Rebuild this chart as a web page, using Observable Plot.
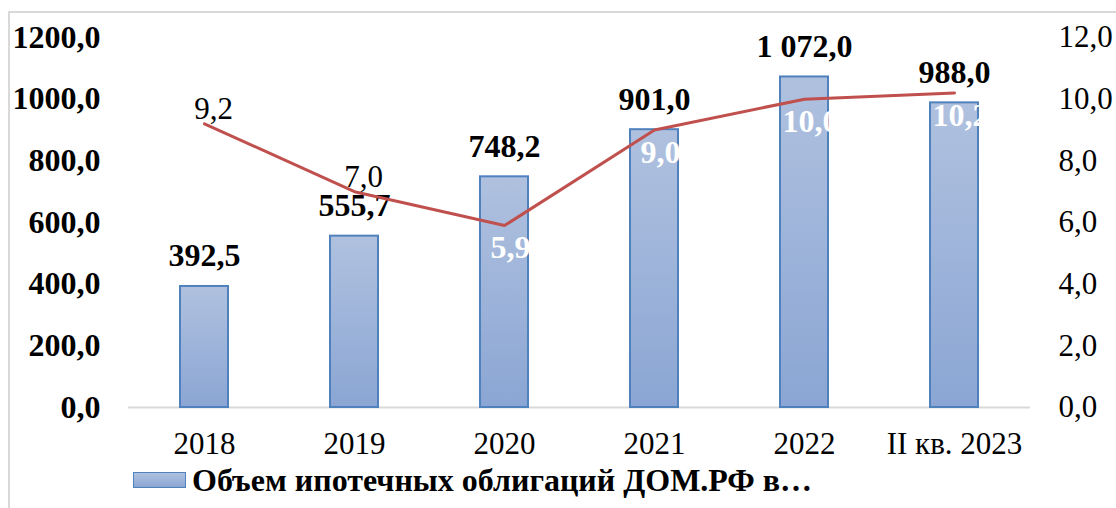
<!DOCTYPE html>
<html>
<head>
<meta charset="utf-8">
<script src="https://cdn.jsdelivr.net/npm/d3@7"></script>
<script src="https://cdn.jsdelivr.net/npm/@observablehq/plot@0.6"></script>
<style>
  body { margin: 0; background: #fff; }
  #wrap { position: relative; width: 1116px; height: 508px; overflow: hidden; font-family: "Liberation Serif", "Times New Roman", serif; }
  #border { position: absolute; left: 8px; top: 11px; width: 1200px; height: 600px; border-top: 2px solid #D9D9D9; border-left: 2px solid #D9D9D9; }
  #chart { position: absolute; left: 0; top: 0; }
  #legend { position: absolute; left: 133px; top: 465px; display: flex; align-items: center; font-weight: bold; font-size: 32px; line-height: 30px; color: #000; white-space: nowrap; }
  #legend .sw { width: 51px; height: 14px; border: 1px solid #4F81BD; background: linear-gradient(#B0C1DF, #8BA6D4); margin-right: 6px; }
</style>
</head>
<body>
<div id="wrap">
  <div id="border"></div>
  <div id="chart"></div>
  <div id="legend"><span class="sw"></span><span id="legendText"></span></div>
</div>
<script>
const years = ["2018", "2019", "2020", "2021", "2022", "II кв. 2023"];
const volumes = [392.5, 555.7, 748.2, 901.0, 1072.0, 988.0];
const volumeLabels = ["392,5", "555,7", "748,2", "901,0", "1 072,0", "988,0"];
const shares = [9.2, 7.0, 5.9, 9.0, 10.0, 10.2];
const leftTicks = [0, 200, 400, 600, 800, 1000, 1200];
const rightTicks = [0, 2, 4, 6, 8, 10, 12];
const legendLabel = "Объем ипотечных облигаций ДОМ.РФ в…";

const ratio = 100; // right axis (0–12) mapped onto left axis (0–1200)
const fmt = v => v.toFixed(1).replace(".", ",");

const data = years.map((year, i) => ({
  year, volume: volumes[i], label: volumeLabels[i], share: shares[i], idx: i
}));

const gradientDefs = () => {
  const defs = d3.create("svg:defs");
  const g = defs.append("linearGradient").attr("id", "barGrad")
    .attr("x1", 0).attr("y1", 0).attr("x2", 0).attr("y2", 1);
  g.append("stop").attr("offset", "0%").attr("stop-color", "#B0C1DF");
  g.append("stop").attr("offset", "100%").attr("stop-color", "#8BA6D4");
  return defs.node();
};

const chart = Plot.plot({
  width: 1116,
  height: 460,
  marginTop: 37,
  marginBottom: 53,
  marginLeft: 128,
  marginRight: 86,
  style: { fontFamily: "'Liberation Serif', 'Times New Roman', serif", color: "#000", background: "transparent", overflow: "visible" },
  x: { type: "band", domain: years, paddingInner: 0.68, paddingOuter: 0.34, label: null },
  y: { domain: [0, 1200], label: null },
  marks: [
    gradientDefs,
    Plot.ruleY([0], { stroke: "#D9D9D9", strokeWidth: 2 }),
    Plot.barY(data, { x: "year", y: "volume", fill: "url(#barGrad)", stroke: "#4F81BD", strokeWidth: 2 }),
    Plot.text(data, { x: "year", y: "volume", text: "label", lineAnchor: "bottom", dy: -20, fontSize: 32, fontWeight: "bold", fill: "#000" }),
    Plot.line(data, { x: "year", y: d => d.share * ratio, stroke: "#C0504D", strokeWidth: 3 }),
    Plot.text(data.filter(d => d.idx < 2), { x: "year", y: d => d.share * ratio, text: d => fmt(d.share), lineAnchor: "bottom", dy: -5, dx: 9, fontSize: 31, fill: "#000" }),
    Plot.text(data.filter(d => d.idx >= 2), { x: "year", y: d => d.share * ratio, text: d => fmt(d.share), lineAnchor: "top", dy: 10, dx: 6, fontSize: 32, fontWeight: "bold", fill: "#fff" }),
    Plot.axisY(leftTicks, { anchor: "left", tickSize: 0, tickPadding: 28, tickFormat: fmt, fontSize: 32, fontWeight: "bold", label: null }),
    Plot.axisY(rightTicks.map(v => v * ratio), { anchor: "right", tickSize: 0, tickPadding: 28, tickFormat: d => fmt(d / ratio), fontSize: 31, label: null }),
    Plot.axisX({ anchor: "bottom", tickSize: 0, tickPadding: 24, fontSize: 31, label: null })
  ]
});
document.getElementById("chart").appendChild(chart);
document.getElementById("legendText").textContent = legendLabel;
</script>
</body>
</html>
